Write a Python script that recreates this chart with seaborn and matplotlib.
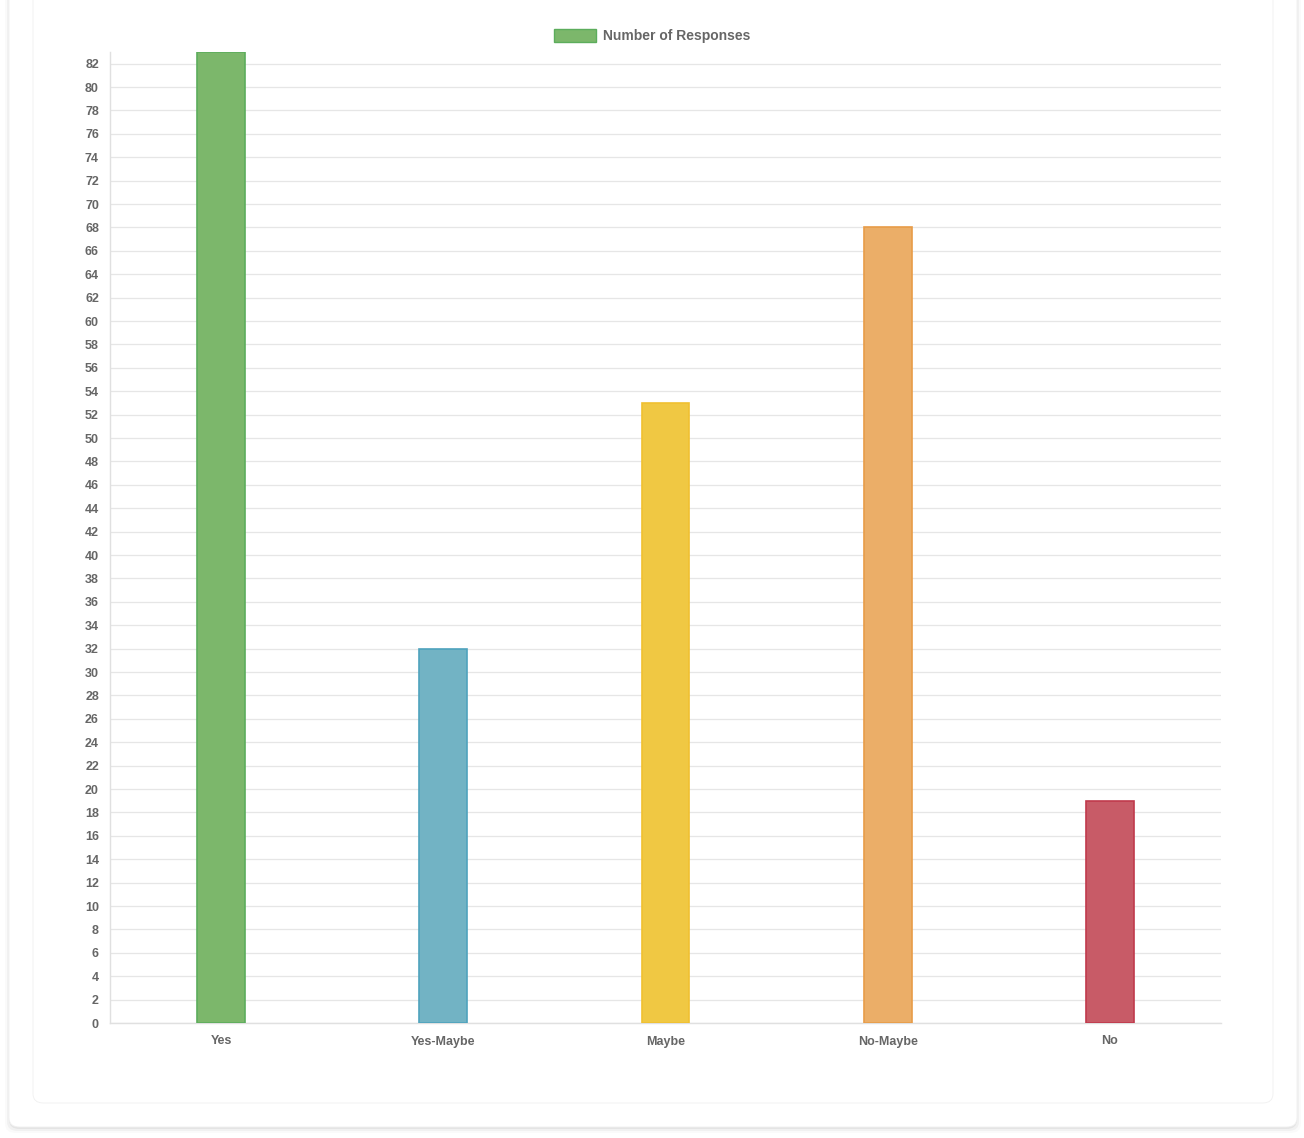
import matplotlib
matplotlib.use('Agg')
import matplotlib.pyplot as plt
from matplotlib.patches import FancyBboxPatch, Patch
import seaborn as sns
import pandas as pd

# Chart data
categories = ['Yes', 'Yes-Maybe', 'Maybe', 'No-Maybe', 'No']
responses = [83, 32, 53, 68, 19]
fill_colors = ['#7cb76b', '#72b3c4', '#f0c843', '#ebae68', '#c85b67']
edge_colors = ['#5cad5c', '#4fa3bd', '#f0c030', '#e89c48', '#c03a4c']
series_label = 'Number of Responses'

df = pd.DataFrame({'answer': categories, 'count': responses})

sns.set_theme(style='white')
plt.rcParams['font.family'] = ['Liberation Sans', 'DejaVu Sans']

fig = plt.figure(figsize=(13.04, 11.38), dpi=100)
W, H = 1304, 1138

# card backgrounds (outer + inner, with faint shadows)
def card(x0, y0, x1, y1, shadow):
    for i, a in enumerate([0.05, 0.035, 0.02]):
        fig.patches.append(FancyBboxPatch(
            (x0 / W - i * 0.0015, 1 - (y1 + 2 + i * 2) / H), (x1 - x0) / W + i * 0.003, (y1 - y0) / H,
            boxstyle='round,pad=0,rounding_size=0.008', transform=fig.transFigure,
            facecolor=(0, 0, 0, a if shadow else a * 0.6), edgecolor='none', zorder=-3))
    fig.patches.append(FancyBboxPatch(
        (x0 / W, 1 - y1 / H), (x1 - x0) / W, (y1 - y0) / H,
        boxstyle='round,pad=0,rounding_size=0.008', transform=fig.transFigure,
        facecolor='white', edgecolor='#f0f0f0', linewidth=0.6, zorder=-2))

card(9, -20, 1297, 1127, True)
card(33, -20, 1273, 1103, False)

ax = fig.add_axes([110 / W, 1 - 1023 / H, 1111 / W, (1023 - 52) / H])
ax.set_facecolor('none')

sns.barplot(data=df, x='answer', y='count', hue='answer', palette=fill_colors,
            saturation=1, legend=False, width=0.216, ax=ax, zorder=3)
for bar, ec in zip(ax.patches, edge_colors):
    bar.set_edgecolor(ec)
    bar.set_linewidth(1.2)

ax.set_ylim(0, max(responses))
ax.set_xlim(-0.5, len(categories) - 0.5)
ax.set_yticks(range(0, 83, 2))
ax.yaxis.grid(True, color='#e6e6e6', linewidth=0.9, zorder=0)
ax.set_xlabel('')
ax.set_ylabel('')
for s in ['top', 'right']:
    ax.spines[s].set_visible(False)
for s in ['left', 'bottom']:
    ax.spines[s].set_color('#e0e0e0')
    ax.spines[s].set_linewidth(1.0)
ax.tick_params(axis='y', length=7, color='#e6e6e6', labelsize=9, labelcolor='#666666', pad=1)
ax.tick_params(axis='x', length=0, labelsize=9, labelcolor='#666666', pad=9)
for lbl in ax.get_xticklabels() + ax.get_yticklabels():
    lbl.set_fontweight('bold')

handle = Patch(facecolor=fill_colors[0], edgecolor=edge_colors[0], label=series_label)
fig.legend(handles=[handle], loc='center', bbox_to_anchor=(0.5, 1 - 36 / H), frameon=False,
           handlelength=3.0, handleheight=1.1, handletextpad=0.5,
           prop={'size': 10, 'weight': 'bold'}, labelcolor='#666666')

fig.savefig('out.png', dpi=100, facecolor='white')
